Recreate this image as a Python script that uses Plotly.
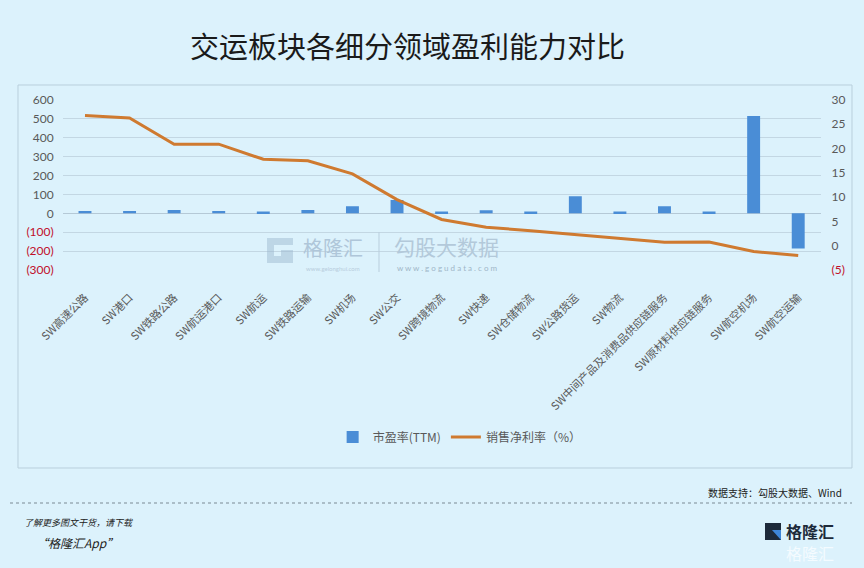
import plotly.graph_objects as go

categories = ["SW高速公路", "SW港口", "SW铁路公路", "SW航运港口", "SW航运", "SW铁路运输",
              "SW机场", "SW公交", "SW跨境物流", "SW快递", "SW仓储物流", "SW公路货运",
              "SW物流", "SW中间产品及消费品供应链服务", "SW原材料供应链服务", "SW航空机场", "SW航空运输"]
pe_ttm = [12, 12, 17, 12, 10, 17, 38, 70, 10, 16, 10, 90, 10, 38, 10, 515, -186]
net_margin = [26.8, 26.3, 20.9, 20.9, 17.8, 17.5, 14.8, 9.5, 5.4, 3.8, 3.1, 2.3, 1.45, 0.7, 0.75, -1.2, -2.0]

left_ticks = [600, 500, 400, 300, 200, 100, 0, -100, -200, -300]
left_text = ["600", "500", "400", "300", "200", "100", "0", "(100)", "(200)", "(300)"]
right_ticks = [30, 25, 20, 15, 10, 5, 0, -5]
right_text = ["30", "25", "20", "15", "10", "5", "0", "(5)"]

RED = "#c0102a"
def color_neg(labels):
    return [f"<span style='color:{RED}'>{t}</span>" if t.startswith("(") else t for t in labels]

W, H = 864, 568
def px(x):
    return x / W
def py(y):
    return 1 - y / H

fig = go.Figure()
fig.add_trace(go.Bar(x=categories, y=pe_ttm, name="市盈率(TTM)", marker_color="#4a8dd6",
                     marker_line_width=0, yaxis="y"))
fig.add_trace(go.Scatter(x=categories, y=net_margin, name="销售净利率（%）", mode="lines",
                         line=dict(color="#cf7a30", width=3), yaxis="y2"))

tickfont = dict(family="Lato, Open Sans, sans-serif", size=12, color="#595959")
fig.update_layout(
    template="none",
    width=W, height=H,
    margin=dict(l=0, r=0, t=0, b=0, autoexpand=False),
    paper_bgcolor="#dcf2fc", plot_bgcolor="rgba(0,0,0,0)",
    bargap=0.71,
    showlegend=True,
    legend=dict(orientation="h", x=0.532, xanchor="center", y=py(437), yanchor="middle",
                font=dict(family="Noto Sans CJK SC", size=12, color="#595959"),
                bgcolor="rgba(0,0,0,0)", itemwidth=30, tracegroupgap=0),
    xaxis=dict(domain=[px(62.7), px(820.5)], tickangle=-45, showgrid=False, showline=False,
               ticks="", tickfont=dict(family="Noto Sans CJK SC", size=11, color="#595959"),
               anchor="y", automargin=False, zeroline=False, ticklabelstandoff=18),
    yaxis=dict(domain=[py(270), py(100)], range=[-300, 600], tickvals=left_ticks,
               ticktext=color_neg(left_text), showgrid=True, gridcolor="#c3d7e3", gridwidth=1,
               zeroline=True, zerolinecolor="#b5c9d6", zerolinewidth=1, showline=False,
               ticks="", tickfont=tickfont, ticklabelstandoff=8, automargin=False),
    yaxis2=dict(overlaying="y", side="right", range=[-5, 30], tickvals=right_ticks,
                ticktext=color_neg(right_text), showgrid=False, zeroline=False, showline=False,
                ticks="", tickfont=tickfont, anchor="x", ticklabelstandoff=10, automargin=False),
)

g_icon = (f"M {px(293)} {py(238)} L {px(267)} {py(238)} L {px(267)} {py(263)} L {px(293)} {py(263)} "
          f"L {px(293)} {py(250)} L {px(281)} {py(250)} L {px(281)} {py(256)} L {px(274)} {py(256)} "
          f"L {px(274)} {py(245)} L {px(293)} {py(245)} Z")
shapes = [
    dict(type="rect", xref="paper", yref="paper", x0=px(18), x1=px(852), y0=py(468), y1=py(85),
         line=dict(color="#b9cfdc", width=1), fillcolor="rgba(0,0,0,0)", layer="below"),
    dict(type="line", xref="paper", yref="paper", x0=px(10), x1=px(852), y0=py(503), y1=py(503),
         line=dict(color="#7a8a94", width=1, dash="dot")),
    # watermark separator
    dict(type="line", xref="paper", yref="paper", x0=px(379), x1=px(379), y0=py(272), y1=py(232),
         line=dict(color="#b9cedd", width=1)),
    # watermark G icon
    dict(type="path", xref="paper", yref="paper", path=g_icon, line=dict(width=0),
         fillcolor="rgba(150,180,205,0.45)"),
    # logo icon
    dict(type="rect", xref="paper", yref="paper", x0=px(765), x1=px(781), y0=py(540), y1=py(523),
         line=dict(width=0), fillcolor="#1d2a3a"),
    dict(type="path", xref="paper", yref="paper",
         path=f"M {px(772)} {py(530)} L {px(781)} {py(530)} L {px(781)} {py(540)} Z",
         line=dict(width=0), fillcolor="#3e86d8"),
]
fig.update_layout(shapes=shapes)

ann = [
    dict(text="交运板块各细分领域盈利能力对比", x=px(407), y=py(45), font=dict(family="Noto Sans CJK SC", size=29, color="#1a1a1a")),
    dict(text="格隆汇", x=px(333), y=py(248), font=dict(family="Noto Sans CJK SC", size=20, color="#afc6d9")),
    dict(text="www.gelonghui.com", x=px(333), y=py(268), font=dict(family="Lato", size=6, color="#b8cddd")),
    dict(text="勾股大数据", x=px(446), y=py(246), font=dict(family="Noto Sans CJK SC", size=21, color="#b3c9da")),
    dict(text="w w w . g o g u d a t a . c o m", x=px(447), y=py(268), font=dict(family="Lato", size=8, color="#9fb6c8")),
    dict(text="数据支持：勾股大数据、Wind", x=px(844), y=py(492), xanchor="right",
         font=dict(family="Noto Sans CJK SC", size=10, color="#222222")),
    dict(text="<i>了解更多图文干货，请下载</i>", x=px(22), y=py(522), xanchor="left",
         font=dict(family="Noto Sans CJK SC", size=9, color="#222222")),
    dict(text="<i>“格隆汇App”</i>", x=px(34), y=py(542), xanchor="left",
         font=dict(family="Noto Sans CJK SC", size=12, color="#222222")),
    dict(text="<b>格隆汇</b>", x=px(784), y=py(531), xanchor="left",
         font=dict(family="Noto Sans CJK SC", size=16, color="#1d2a3a")),
    dict(text="格隆汇", x=px(784), y=py(553), xanchor="left",
         font=dict(family="Noto Sans CJK SC", size=16, color="#f4fbff")),
]
for a in ann:
    a.update(xref="paper", yref="paper", showarrow=False, yanchor=a.get("yanchor", "middle"),
             xanchor=a.get("xanchor", "center"))
fig.update_layout(annotations=ann)

fig.write_html("out.html")
